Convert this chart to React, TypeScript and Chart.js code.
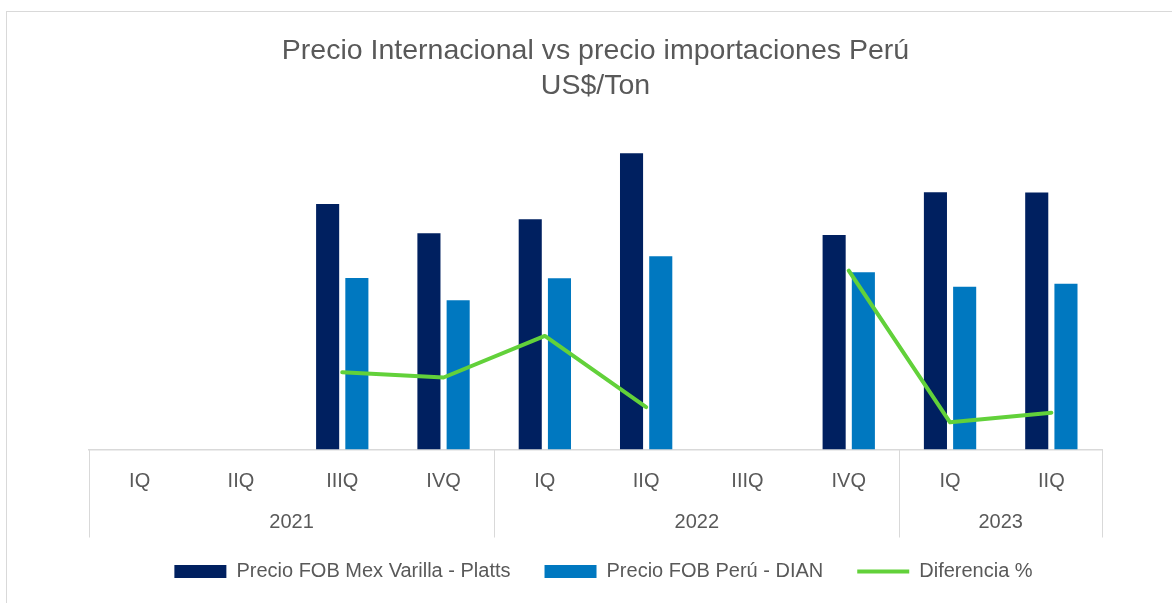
import React, { useEffect, useRef } from "react";
import { Chart, registerables } from "chart.js";

Chart.register(...registerables);

const categories = ["IQ", "IIQ", "IIIQ", "IVQ", "IQ", "IIQ", "IIIQ", "IVQ", "IQ", "IIQ"];
const years = ["2021", "2022", "2023"];
const quartersPerYear = [4, 4, 2];
const plattsPrice = [null, null, 859, 757, 806, 1037, null, 751, 900, 899];
const dianPrice = [null, null, 600, 522, 599, 676, null, 620, 570, 580];
const diferenciaPct = [null, null, 19.3, 18.0, 28.4, 10.6, null, 44.7, 6.8, 9.2];

const Y_MAX = 1157;
const Y1_MAX = 82.65;

const FONT = "'Liberation Sans', Arial, sans-serif";
const TEXT = "#595959";
const GRID = "#d9d9d9";

const yearRowPlugin = {
  id: "yearRow",
  afterLayout(chart: any) {
    if (chart.legend) {
      chart.legend.left += 8;
      chart.legend.right += 8;
    }
  },
  afterDraw(chart: any) {
    const { ctx, chartArea } = chart;
    const { left, right, bottom } = chartArea;
    const n = categories.length;
    const w = (right - left) / n;
    ctx.save();
    ctx.strokeStyle = GRID;
    ctx.lineWidth = 1;
    let idx = 0;
    const bounds = [0];
    quartersPerYear.forEach((q) => {
      idx += q;
      bounds.push(idx);
    });
    bounds.forEach((b) => {
      const x = Math.round(left + b * w) + 0.5;
      ctx.beginPath();
      ctx.moveTo(x, bottom);
      ctx.lineTo(x, bottom + 88);
      ctx.stroke();
    });
    ctx.fillStyle = TEXT;
    ctx.font = `20px ${FONT}`;
    ctx.textAlign = "center";
    ctx.textBaseline = "middle";
    let start = 0;
    years.forEach((yr, i) => {
      const span = quartersPerYear[i];
      const cx = left + (start + span / 2) * w;
      ctx.fillText(yr, cx, bottom + 72.5);
      start += span;
    });
    ctx.restore();
  },
};

export default function App() {
  const ref = useRef<HTMLCanvasElement | null>(null);

  useEffect(() => {
    if (!ref.current) return;
    const chart = new Chart(ref.current, {
      type: "bar",
      data: {
        labels: categories,
        datasets: [
          {
            type: "line",
            label: "Diferencia %",
            data: diferenciaPct,
            yAxisID: "y1",
            borderColor: "#62D13A",
            backgroundColor: "#62D13A",
            borderWidth: 4,
            pointRadius: 0,
            pointHoverRadius: 0,
            pointStyle: "line",
            pointBorderWidth: 4,
            pointBorderColor: "#62D13A",
            pointBackgroundColor: "#62D13A",
            tension: 0,
            spanGaps: false,
            borderCapStyle: "round",
            borderJoinStyle: "round",
            order: 0,
          } as any,
          {
            type: "bar",
            label: "Precio FOB Mex Varilla - Platts",
            data: plattsPrice,
            yAxisID: "y",
            backgroundColor: "#002060",
            borderWidth: 0,
            pointStyle: "rect",
            categoryPercentage: 0.577,
            barPercentage: 0.79,
            order: 1,
          } as any,
          {
            type: "bar",
            label: "Precio FOB Perú - DIAN",
            data: dianPrice,
            yAxisID: "y",
            backgroundColor: "#0078C0",
            borderWidth: 0,
            pointStyle: "rect",
            categoryPercentage: 0.577,
            barPercentage: 0.79,
            order: 1,
          } as any,
        ],
      },
      options: {
        animation: false,
        responsive: false,
        maintainAspectRatio: false,
        devicePixelRatio: 1,
        layout: { padding: { left: 89, right: 70, top: 23.5, bottom: 68.5 } },
        scales: {
          x: {
            offset: true,
            grid: { display: false, drawTicks: false },
            border: { display: true, color: GRID, width: 1.5 },
            ticks: {
              color: TEXT,
              font: { family: FONT, size: 20 },
              padding: 20,
              maxRotation: 0,
              autoSkip: false,
            },
            afterFit(scale: any) {
              scale.height = 78;
            },
          },
          y: { display: false, min: 0, max: Y_MAX },
          y1: { display: false, min: 0, max: Y1_MAX },
        },
        plugins: {
          tooltip: { enabled: false },
          title: {
            display: true,
            text: ["Precio Internacional vs precio importaciones Perú", "US$/Ton"],
            color: TEXT,
            font: { family: FONT, size: 28.5, weight: "normal", lineHeight: 1.2 },
            padding: { top: 11, bottom: 16 },
          },
          legend: {
            display: true,
            position: "bottom",
            labels: {
              usePointStyle: true,
              pointStyleWidth: 52,
              boxHeight: 13,
              color: TEXT,
              font: { family: FONT, size: 20 },
              padding: 34,
              sort: (a: any, b: any) => {
                const ord = [1, 2, 0];
                return ord.indexOf(a.datasetIndex) - ord.indexOf(b.datasetIndex);
              },
            },
          },
        },
      } as any,
      plugins: [yearRowPlugin],
    });
    return () => chart.destroy();
  }, []);

  return (
    <div
      style={{
        position: "fixed",
        left: 0,
        top: 0,
        width: 1172,
        height: 603,
        overflow: "hidden",
        background: "#ffffff",
      }}
    >
      <div
        style={{
          position: "absolute",
          left: 6,
          top: 11,
          width: 1200,
          height: 700,
          border: `1px solid ${GRID}`,
          boxSizing: "border-box",
        }}
      />
      <canvas
        ref={ref}
        width={1172}
        height={660}
        style={{ position: "absolute", left: 0, top: 0, width: 1172, height: 660 }}
      />
    </div>
  );
}
